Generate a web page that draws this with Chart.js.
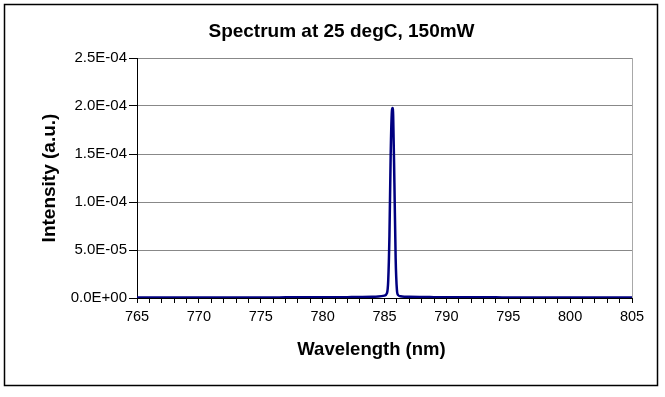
<!DOCTYPE html>
<html>
<head>
<meta charset="utf-8">
<script src="https://cdn.jsdelivr.net/npm/chart.js@4"></script>
<style>
html,body{margin:0;padding:0;background:#fff;}
#wrap{width:665px;height:397px;position:relative;}
</style>
</head>
<body>
<div id="wrap"><canvas id="c" width="665" height="397"></canvas></div>
<script>
const wavelengths = [765,766,767,768,769,770,771,772,773,774,775,776,777,778,779,780,781,782,783,784,784.5,785.0,785.2,785.3,785.4,785.5,785.6,785.65,785.7,785.8,785.9,786.0,786.1,786.3,786.6,787,788,789,790,791,792,793,794,795,796,797,798,799,800,801,802,803,804,805];
const intensity = [4e-7,4e-7,5e-7,4e-7,5e-7,5e-7,5e-7,6e-7,5e-7,6e-7,6e-7,6e-7,7e-7,7e-7,7e-7,8e-7,8e-7,9e-7,1.0e-6,1.2e-6,1.5e-6,2.5e-6,5e-6,1.8e-5,6.5e-5,1.5e-4,1.95e-4,1.98e-4,1.9e-4,1.2e-4,4.2e-5,9e-6,3e-6,1.8e-6,1.4e-6,1.2e-6,1.0e-6,9e-7,8e-7,8e-7,7e-7,7e-7,7e-7,6e-7,6e-7,6e-7,5e-7,5e-7,5e-7,5e-7,4e-7,4e-7,4e-7,4e-7];
const yTicks = [0, 5e-5, 1e-4, 1.5e-4, 2e-4, 2.5e-4];
const xLabelStep = 5;
const chartTitle = 'Spectrum at 25 degC, 150mW';
const xTitle = 'Wavelength (nm)';
const yTitle = 'Intensity (a.u.)';

const FONT = '"Liberation Sans", Arial, sans-serif';

function fmtExp(v){
  const s = Number(v).toExponential(1);
  const [m, e] = s.split('e');
  const n = parseInt(e, 10);
  const sign = n < 0 ? '-' : '+';
  const ab = Math.abs(n);
  return m + 'E' + sign + (ab < 10 ? '0' + ab : String(ab));
}

const frame = {
  id: 'frame',
  beforeDraw(chart){
    const ctx = chart.ctx;
    ctx.save();
    ctx.fillStyle = '#fff';
    ctx.fillRect(0,0,chart.width,chart.height);
    ctx.restore();
  },
  beforeDatasetsDraw(chart){
    const {ctx, chartArea:a} = chart;
    ctx.save();
    ctx.strokeStyle = '#a8a8a8';
    ctx.lineWidth = 1;
    ctx.beginPath();
    ctx.moveTo(Math.round(a.right)+0.5, a.top);
    ctx.lineTo(Math.round(a.right)+0.5, a.bottom);
    ctx.stroke();
    ctx.restore();
  },
  afterDraw(chart){
    const ctx = chart.ctx;
    ctx.save();
    // x-axis title (Excel centres it slightly left of the plot centre)
    ctx.fillStyle = '#000';
    ctx.font = 'bold 18.5px ' + FONT;
    ctx.textAlign = 'center';
    ctx.textBaseline = 'alphabetic';
    ctx.fillText(xTitle, 371.5, 355);
    // outer frame
    ctx.strokeStyle = '#000';
    ctx.lineWidth = 1.5;
    ctx.strokeRect(4.5, 4.5, 653, 381);
    ctx.restore();
  }
};

Chart.defaults.font.family = FONT;
Chart.defaults.color = '#000';

new Chart(document.getElementById('c'), {
  type: 'line',
  data: {
    datasets: [{
      data: wavelengths.map((w,i)=>({x:w, y:intensity[i]})),
      borderColor: '#000080',
      borderWidth: 2.5,
      pointRadius: 0,
      fill: false,
      cubicInterpolationMode: 'monotone'
    }]
  },
  options: {
    responsive: false,
    animation: false,
    devicePixelRatio: 1,
    layout: { padding: { left: 51, right: 33, top: 0, bottom: 0 } },
    plugins: {
      legend: { display: false },
      tooltip: { enabled: false },
      title: {
        display: true,
        text: chartTitle,
        font: { size: 19, weight: 'bold' },
        color: '#000',
        padding: { top: 20, bottom: 15.2 }
      }
    },
    scales: {
      x: {
        type: 'linear',
        min: 765, max: 805,
        afterFit(s){ s.height = 99; },
        grid: { drawOnChartArea: false, tickLength: 5, tickColor: '#000', lineWidth: 1 },
        border: { color: '#000', width: 1 },
        ticks: {
          stepSize: 1, autoSkip: false, maxRotation: 0, padding: 5,
          font: { size: 14.5 }, color: '#000',
          callback: v => (Math.round(v) % xLabelStep === 0 ? String(Math.round(v)) : '')
        },
        title: { display: false }
      },
      y: {
        type: 'linear',
        min: 0, max: 2.5e-4,
        afterFit(s){ s.width = 86; },
        afterBuildTicks(s){ s.ticks = yTicks.map(v=>({value:v})); },
        grid: { color: '#888', tickColor: '#000', tickLength: 8, lineWidth: 1 },
        border: { color: '#000', width: 1 },
        ticks: {
          padding: 2,
          font: { size: 15 }, color: '#000',
          callback: v => fmtExp(v)
        },
        title: {
          display: true, text: yTitle,
          font: { size: 19, weight: 'bold' }, color: '#000',
          padding: { top: -12.4, bottom: 0 }
        }
      }
    }
  },
  plugins: [frame]
});
</script>
</body>
</html>
